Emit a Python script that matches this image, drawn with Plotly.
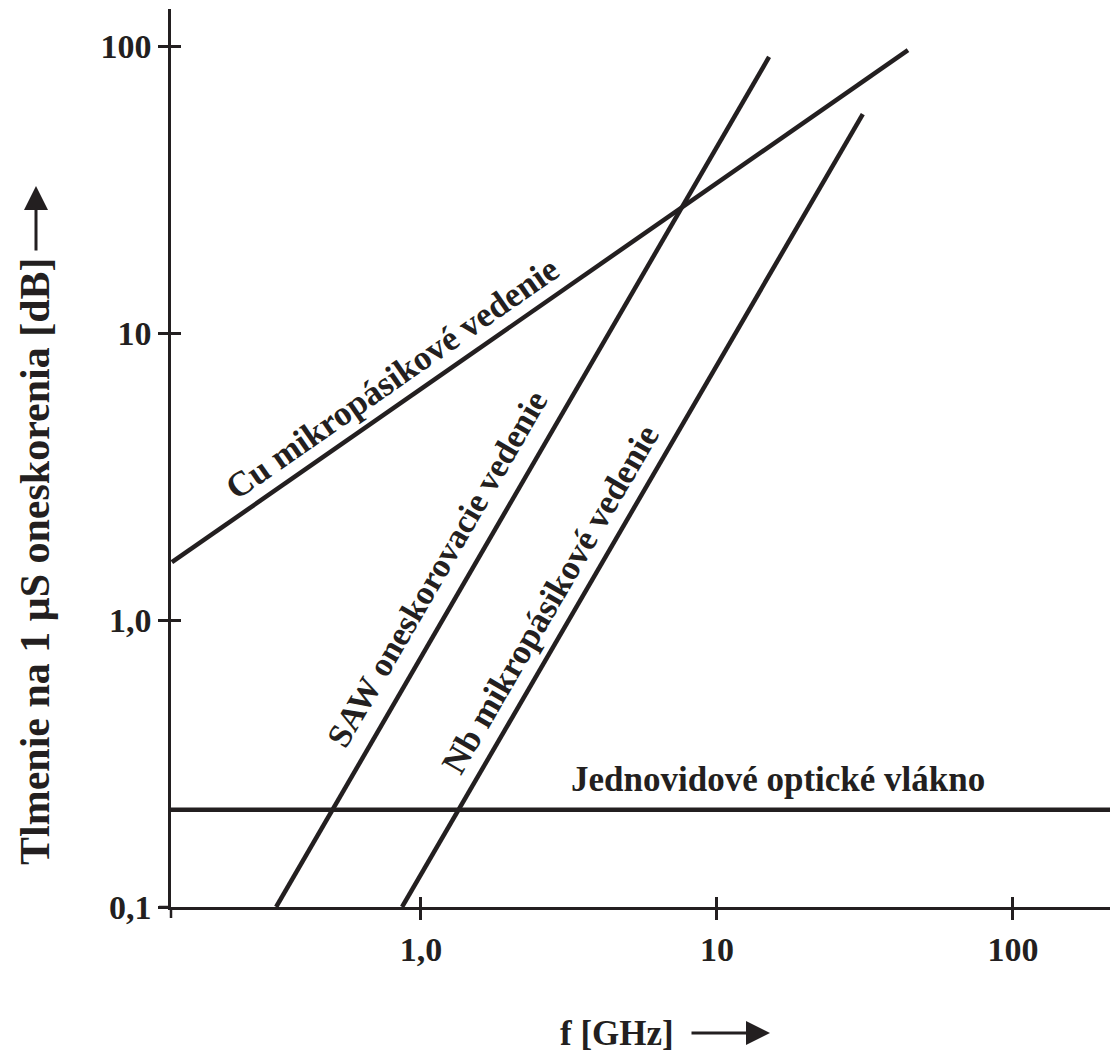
import plotly.graph_objects as go
import numpy as np

# ---- data ----
cu_f = [0.144, 44.2]
cu_att = [1.59, 96.8]
saw_f = [0.324, 15.0]
saw_att = [0.1, 91.6]
nb_f = [0.863, 31.1]
nb_att = [0.1, 57.9]
fiber_f = [0.143, 220.0]
fiber_att = [0.218, 0.218]

x_tickvals = [1, 10, 100]
x_ticktext = ["1,0", "10", "100"]
y_tickvals = [0.1, 1, 10, 100]
y_ticktext = ["0,1", "1,0", "10", "100"]

labels = {
    "cu": "Cu mikropásikové vedenie",
    "saw": "SAW oneskorovacie vedenie",
    "nb": "Nb mikropásikové vedenie",
    "fiber": "Jednovidové optické vlákno",
}

INK = "#231f20"
FONT = "Liberation Serif"
FS = 34

x_range = [np.log10(0.143), 2.328]
y_range = [-1.0, 2.129]

fig = go.Figure()
for xs, ys in [(cu_f, cu_att), (saw_f, saw_att), (nb_f, nb_att), (fiber_f, fiber_att)]:
    fig.add_trace(go.Scatter(x=xs, y=ys, mode="lines",
                             line=dict(color=INK, width=4.5),
                             showlegend=False, hoverinfo="skip"))
# placeholder trace (no visible point) so the overlay axes with inside tick halves are drawn
fig.add_trace(go.Scatter(x=[None], y=[None], xaxis="x2", yaxis="y2", mode="lines",
                         showlegend=False, hoverinfo="skip"))

axis_common = dict(type="log", showgrid=False, zeroline=False,
                   tickcolor=INK, tickwidth=2.5, ticklen=10)

fig.update_layout(
    width=1120, height=1054,
    margin=dict(l=171, r=10, t=9, b=147),
    paper_bgcolor="white", plot_bgcolor="white",
    font=dict(family=FONT, size=FS, color=INK, weight="bold"),
    xaxis=dict(**axis_common, range=x_range, ticks="outside",
               tickvals=x_tickvals, ticktext=x_ticktext,
               showline=True, linecolor=INK, linewidth=2.5,
               ticklabelstandoff=0,
               tickfont=dict(family=FONT, size=FS, color=INK, weight="bold")),
    yaxis=dict(**axis_common, range=y_range, ticks="outside",
               tickvals=y_tickvals, ticktext=y_ticktext,
               showline=True, linecolor=INK, linewidth=2.5,
               tickfont=dict(family=FONT, size=FS, color=INK, weight="bold")),
    xaxis2=dict(**axis_common, range=x_range, ticks="inside",
                tickvals=x_tickvals, showticklabels=False, showline=False,
                overlaying="x", anchor="y2", side="bottom"),
    yaxis2=dict(**axis_common, range=y_range, ticks="inside",
                tickvals=y_tickvals, showticklabels=False, showline=False,
                overlaying="y", anchor="x2", side="left"),
)

# axis line extensions beyond the origin
fig.add_shape(type="line", xref="paper", yref="paper", x0=0, x1=0, y0=0, y1=-11/898,
              line=dict(color=INK, width=2.5))
fig.add_shape(type="line", xref="paper", yref="paper", x0=-12/939, x1=0, y0=0, y1=0,
              line=dict(color=INK, width=2.5))

lab_font = dict(family=FONT, size=FS + 1, color=INK, weight="bold")
fig.add_annotation(x=-0.098, y=0.843, text=labels["cu"], textangle=-34.8,
                   showarrow=False, font=lab_font, xanchor="center", yanchor="middle")
fig.add_annotation(x=0.054, y=0.181, text=labels["saw"], textangle=-59.9,
                   showarrow=False, font=dict(family=FONT, size=FS, color=INK, weight="bold"),
                   xanchor="center", yanchor="middle")
fig.add_annotation(x=0.436, y=0.073, text=labels["nb"], textangle=-59.8,
                   showarrow=False, font=lab_font, xanchor="center", yanchor="middle")
fig.add_annotation(x=1.206, y=-0.554, text=labels["fiber"], textangle=0,
                   showarrow=False, font=lab_font, xanchor="center", yanchor="middle")

# axis titles with arrows
fig.add_annotation(xref="paper", yref="paper", x=(35 - 171) / 939, y=(907 - 561) / 898,
                   text="Tlmenie na 1 μS oneskorenia [dB]", textangle=-90,
                   showarrow=False, font=dict(family=FONT, size=42, color=INK, weight="bold"),
                   xanchor="center", yanchor="middle")
fig.add_annotation(xref="paper", yref="paper", x=(36 - 171) / 939, y=(907 - 186) / 898,
                   text="", showarrow=True, ax=0, ay=66, axref="pixel", ayref="pixel",
                   arrowhead=2, arrowwidth=3, arrowsize=1.6, arrowcolor=INK)
fig.add_annotation(xref="paper", yref="paper", x=(617 - 171) / 939, y=(907 - 1033) / 898,
                   text="f [GHz]", showarrow=False, font=lab_font,
                   xanchor="center", yanchor="middle")
fig.add_annotation(xref="paper", yref="paper", x=(770 - 171) / 939, y=(907 - 1033) / 898,
                   text="", showarrow=True, ax=-80, ay=0, axref="pixel", ayref="pixel",
                   arrowhead=2, arrowwidth=3, arrowsize=1.6, arrowcolor=INK)

fig.write_html("out.html", config={"displayModeBar": False},
               post_script="document.body.style.margin='0';document.body.style.padding='0';")
